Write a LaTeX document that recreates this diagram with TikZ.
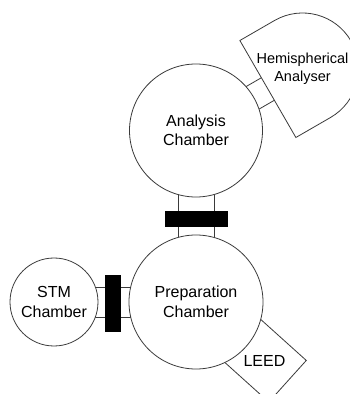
\documentclass[tikz,border=0pt]{standalone}
\usepackage{fontspec}
\setmainfont{Liberation Sans}
\usetikzlibrary{calc}
\usetikzlibrary{backgrounds}
\definecolor{wire}{HTML}{3A3A3A}
\tikzset{
  chamber/.style={shape=circle, draw=wire, fill=white, line width=0.8pt, align=center, inner sep=0pt},
  gate/.style={shape=rectangle, fill=black, draw=none, inner sep=0pt},
  pipe/.style={draw=wire, line width=0.8pt},
}

\begin{document}
\begin{tikzpicture}[x=1pt,y=1pt,font=\fontsize{16}{19.5}\selectfont]
        \clip (0,0) rectangle (350,394);
        % chambers
        \node[chamber, minimum size=133pt] (ana) at (196,263.5) {Analysis\\Chamber};
        \node[chamber, minimum size=134pt] (prep) at (196,92) {Preparation\\Chamber};
        \node[chamber, minimum size=88pt] (stm) at (54,92) {STM\\Chamber};
        % analyser
        \coordinate (port) at ($(ana.center)+(30:83)$);
        \begin{scope}[shift={(port)}, rotate=30]
            \draw[pipe, fill=white] (0,-56) -- (40,-56) arc[start angle=-90, end angle=90, radius=56] -- (0,56) -- cycle;
            \node[font=\fontsize{14.5}{18}\selectfont, align=center] (hemi) at (40,0) {Hemispherical\\Analyser};
        \end{scope}
        \begin{scope}[on background layer]
            % analysis to preparation
            \draw[pipe] ($(ana.center)+(-18,0)$) -- ($(prep.center)+(-18,0)$);
            \draw[pipe] ($(ana.center)+(18,0)$) -- ($(prep.center)+(18,0)$);
            % stm to preparation
            \draw[pipe] ($(stm.center)+(0,15)$) -- ($(prep.center)+(0,15)$);
            \draw[pipe] ($(stm.center)+(0,-15)$) -- ($(prep.center)+(0,-15)$);
            % analysis to analyser
            \draw[pipe] ($(ana.center)+(120:13)$) -- ($(port)+(120:13)$);
            \draw[pipe] ($(ana.center)+(-60:13)$) -- ($(port)+(-60:13)$);
            % leed
            \node[pipe, fill=white, rotate=-42, minimum width=62pt, minimum height=56pt] (leed) at (264.5,33.5) {};
        \end{scope}
        \node at (leed.center) {LEED};
        % valves
        \node[gate, minimum width=63pt, minimum height=16pt] (valveap) at (196.5,175) {};
        \node[gate, minimum width=16pt, minimum height=57pt] (valvesp) at (113,90.5) {};
\end{tikzpicture}
\end{document}
